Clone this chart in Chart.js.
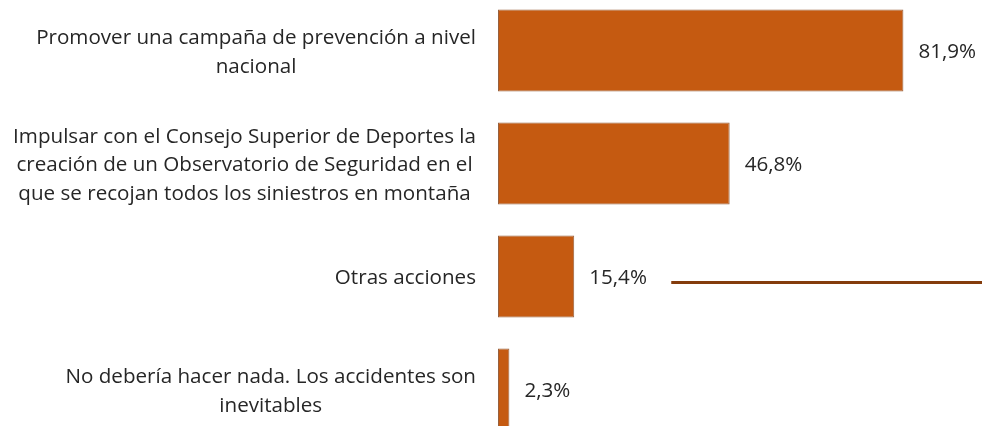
<!DOCTYPE html>
<html>
<head>
<meta charset="utf-8">
<script src="https://cdn.jsdelivr.net/npm/chart.js@4.4.1/dist/chart.umd.min.js"></script>
<style>
  html, body { margin: 0; padding: 0; background: #fff; overflow: hidden; width: 982px; height: 426px; }
  #wrap { position: absolute; left: 0; top: -6px; width: 1000px; height: 460px; }
</style>
</head>
<body>
<div id="wrap"><canvas id="mycanvas" width="1000" height="460"></canvas></div>
<script>
// categories (line breaks as in the picture)
var categories = [
	["Promover una campaña de prevención a nivel", "nacional"],
	["Impulsar con el Consejo Superior de Deportes la", "creación de un Observatorio de Seguridad en el", "que se recojan todos los siniestros en montaña"],
	["Otras acciones"],
	["No debería hacer nada. Los accidentes son", "inevitables"]
];
var percentages = [81.9, 46.8, 15.4, 2.3];
var valueLabels = ["81,9%", "46,8%", "15,4%", "2,3%"];

var fontFamily = "'Open Sans', 'Noto Sans', sans-serif";
var fontSize = 20.6;
var lineHeight = 28.7;

// left labels, right aligned block with centered lines
var labelPlugin = {
	id: 'labelPlugin',
	afterDatasetsDraw: function(chart){
		var ctx = chart.ctx;
		var yScale = chart.scales.y;
		var xScale = chart.scales.x;
		var meta = chart.getDatasetMeta(0);
		ctx.save();
		ctx.font = fontSize + "px " + fontFamily;
		ctx.textBaseline = 'middle';
		ctx.fillStyle = '#262626';
		ctx.textAlign = 'center';
		var rightEdge = chart.chartArea.left - 22;
		for(var i in categories){
			var lines = categories[i];
			var widest = 0;
			for(var j in lines){
				widest = Math.max(widest, ctx.measureText(lines[j]).width);
			}
			var cy = yScale.getPixelForValue(Number(i)) + 2;
			var y0 = cy - (lines.length - 1) * lineHeight / 2;
			for(var j = 0; j < lines.length; j++){
				ctx.fillText(lines[j], rightEdge - widest / 2, y0 + j * lineHeight);
			}
			// value label
			var bar = meta.data[i];
			ctx.textAlign = 'left';
			ctx.fillText(valueLabels[i], bar.x + 15, cy);
			ctx.textAlign = 'center';
		}
		// stray line next to "Otras acciones"
		var ly = yScale.getPixelForValue(2) + 6;
		ctx.strokeStyle = '#843C0C';
		ctx.lineWidth = 3;
		ctx.beginPath();
		ctx.moveTo(xScale.getPixelForValue(35), ly);
		ctx.lineTo(xScale.getPixelForValue(100), ly);
		ctx.stroke();
		ctx.restore();
	}
};

var chartdata = {
	labels: categories,
	datasets: [
		{
			label: 'Respuestas',
			backgroundColor: '#C55A11',
			borderColor: '#96603E',
			borderWidth: 1,
			borderSkipped: false,
			categoryPercentage: 0.726,
			barPercentage: 1,
			data: percentages
		}
	]
};

var ctx = document.getElementById('mycanvas');

var barGraph = new Chart(ctx, {
	type: 'bar',
	data: chartdata,
	plugins: [labelPlugin],
	options: {
		indexAxis: 'y',
		responsive: false,
		animation: false,
		layout: { padding: { left: 498, right: 7, top: 0, bottom: 8 } },
		plugins: {
			legend: { display: false },
			tooltip: { enabled: false }
		},
		scales: {
			x: { display: false, min: 0, max: 100 },
			y: { display: false }
		}
	}
});
</script>
</body>
</html>
